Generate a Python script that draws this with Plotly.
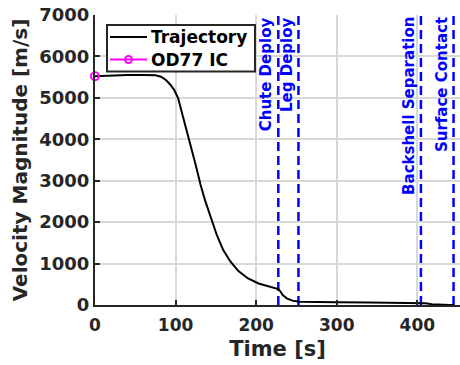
import plotly.graph_objects as go

# Trajectory data
time_s = [0, 20, 40, 60, 75, 82, 88, 93, 98, 103, 108, 113, 119, 125, 131, 137, 144,
          151, 159, 168, 178, 190, 203, 216, 227.5, 230, 233, 238, 245, 254, 270, 300,
          340, 380, 398, 404, 410, 418, 428, 440, 446]
velocity = [5520, 5545, 5552, 5552, 5545, 5510, 5430, 5330, 5200, 5000, 4640, 4300,
            3830, 3380, 2900, 2500, 2100, 1700, 1330, 1050, 820, 640, 520, 440, 385,
            330, 240, 160, 105, 80, 72, 65, 58, 52, 55, 52, 40, 20, 5, 2, 1]

ic_time = [0]
ic_velocity = [5520]

series_names = ["Trajectory", "OD77 IC"]
event_names = ["Chute Deploy", "Leg Deploy", "Backshell Separation", "Surface Contact"]
event_times = [227.5, 252.5, 404.5, 445]

x_ticks = [0, 100, 200, 300, 400]
y_ticks = [0, 1000, 2000, 3000, 4000, 5000, 6000, 7000]
x_max = 453

FONT = "DejaVu Sans"
TXT = "#262626"
GRID = "#d8d8d8"
W, H = 460, 365
ML, MR, MT, MB = 95, 0, 15, 60
PW, PH = W - ML - MR, H - MT - MB


def px(xp):
    return (xp - ML) / PW


def py(yp):
    return (H - MB - yp) / PH


fig = go.Figure()

for t in event_times:
    fig.add_trace(go.Scatter(x=[t, t], y=[0, 7000], mode="lines",
                             line=dict(color="#0000ff", width=2.5, dash="9px,5px"),
                             showlegend=False, hoverinfo="skip"))

fig.add_trace(go.Scatter(x=time_s, y=velocity, mode="lines", name=series_names[0],
                         line=dict(color="black", width=2)))
fig.add_trace(go.Scatter(x=ic_time, y=ic_velocity, mode="lines+markers", name=series_names[1],
                         line=dict(color="#ff00ff", width=2),
                         marker=dict(symbol="circle-open", size=8, color="#ff00ff",
                                     line=dict(width=2, color="#ff00ff")),
                         cliponaxis=False))

for name, t in zip(event_names, event_times):
    fig.add_annotation(x=t, y=1, xref="x", yref="paper", text="<b>%s</b>" % name,
                       textangle=-90, xanchor="right", yanchor="top", showarrow=False,
                       font=dict(family=FONT, size=15, color="#0000ff"), xshift=-1)

# Custom legend box (MATLAB style)
fig.add_shape(type="rect", xref="paper", yref="paper",
              x0=px(107), x1=px(255), y0=py(71.5), y1=py(25),
              line=dict(color=TXT, width=2), fillcolor="white", layer="above")
leg_colors = ["black", "#ff00ff"]
leg_rows = [37, 59.5]
for name, col, yr in zip(series_names, leg_colors, leg_rows):
    fig.add_shape(type="line", xref="paper", yref="paper",
                  x0=px(110), x1=px(147), y0=py(yr), y1=py(yr),
                  line=dict(color=col, width=2), layer="above")
    fig.add_annotation(x=px(149), y=py(yr), xref="paper", yref="paper",
                       text="<b>%s</b>" % name, xanchor="left", yanchor="middle",
                       showarrow=False, font=dict(family=FONT, size=17, color="black"))
fig.add_shape(type="circle", xref="paper", yref="paper", xsizemode="pixel", ysizemode="pixel",
              xanchor=px(128.5), yanchor=py(leg_rows[1]), x0=-3.5, x1=3.5, y0=-3.5, y1=3.5,
              line=dict(color="#ff00ff", width=2), fillcolor="rgba(0,0,0,0)", layer="above")

fig.update_layout(
    width=W, height=H,
    margin=dict(l=ML, r=MR, t=MT, b=MB),
    paper_bgcolor="white", plot_bgcolor="white",
    font=dict(family=FONT, color=TXT),
    showlegend=False,
    xaxis=dict(range=[0, x_max], tickmode="array", tickvals=x_ticks,
               ticktext=["<b>%d</b>" % v for v in x_ticks],
               showgrid=True, gridcolor=GRID, gridwidth=1.5,
               showline=True, linecolor=TXT, linewidth=2,
               ticks="inside", ticklen=5, tickwidth=2, tickcolor=TXT,
               tickfont=dict(family=FONT, size=17, color=TXT), ticklabelstandoff=4,
               title=dict(text="<b>Time [s]</b>", font=dict(family=FONT, size=21, color=TXT), standoff=7),
               zeroline=False, automargin=False),
    yaxis=dict(range=[0, 7000], tickmode="array", tickvals=y_ticks,
               ticktext=["<b>%d</b>" % v for v in y_ticks],
               showgrid=True, gridcolor=GRID, gridwidth=1.5,
               showline=True, linecolor=TXT, linewidth=2,
               ticks="inside", ticklen=5, tickwidth=2, tickcolor=TXT,
               tickfont=dict(family=FONT, size=18, color=TXT),
               title=dict(text="<b>Velocity Magnitude [m/s]</b>", font=dict(family=FONT, size=20, color=TXT), standoff=6),
               zeroline=False, automargin=False),
)

fig.write_html("out.html")
